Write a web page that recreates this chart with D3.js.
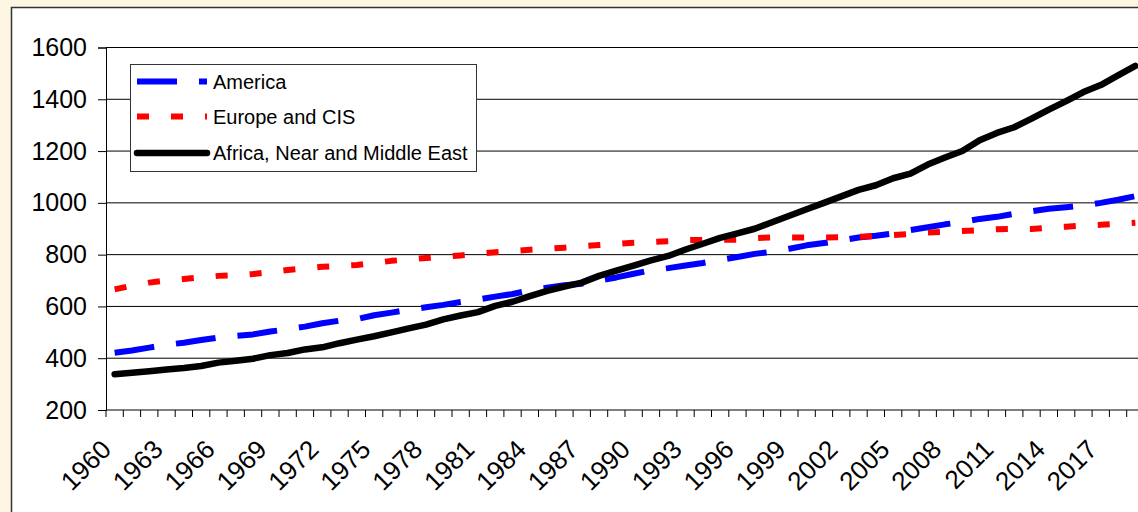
<!DOCTYPE html>
<html>
<head>
<meta charset="utf-8">
<script src="https://cdn.jsdelivr.net/npm/d3@7"></script>
<style>
  body { margin: 0; background: #fdf6e3; }
  svg { display: block; font-family: "Liberation Sans", Arial, sans-serif; }
</style>
</head>
<body>
<div id="vis1"></div>
<script>
const FRAME_HEIGHT = 512;
const FRAME_WIDTH = 1138;
const MARGINS = {left: 106, right: -6, top: 47.5, bottom: 102};

const VIS_HEIGHT = FRAME_HEIGHT - MARGINS.top - MARGINS.bottom;
const VIS_WIDTH = FRAME_WIDTH - MARGINS.left - MARGINS.right;

// years 1960 .. 2019
const YEARS = d3.range(1960, 2020);
const Y_TICKS = [200, 400, 600, 800, 1000, 1200, 1400, 1600];

const AMERICA = [421, 430, 441, 452, 460, 470, 480, 486, 492, 503,
                 512, 522, 535, 545, 551, 566, 576, 587, 597, 606,
                 617, 627, 638, 648, 662, 672, 682, 688, 700, 712,
                 726, 740, 748, 758, 768, 780, 791, 803, 811, 823,
                 836, 845, 855, 866, 873, 882, 895, 906, 917, 926,
                 938, 946, 958, 968, 977, 983, 990, 1000, 1012, 1026];

const EUROPE_CIS = [666, 680, 692, 700, 706, 712, 718, 721, 725, 733,
                    741, 747, 753, 757, 760, 768, 776, 782, 787, 792,
                    797, 803, 809, 814, 819, 823, 827, 832, 837, 842,
                    846, 849, 852, 856, 857, 857, 858, 864, 866, 866,
                    866, 866, 867, 869, 872, 876, 880, 885, 888, 891,
                    894, 898, 899, 899, 904, 908, 912, 915, 919, 923];

const AFRICA_ME = [338, 344, 350, 356, 362, 370, 383, 390, 398, 412,
                   420, 434, 442, 458, 472, 485, 500, 515, 530, 550,
                   565, 578, 602, 618, 640, 660, 677, 692, 718, 738,
                   758, 778, 795, 820, 842, 865, 882, 900, 925, 950,
                   975, 1000, 1025, 1050, 1068, 1095, 1113, 1148, 1175, 1200,
                   1242, 1270, 1292, 1325, 1360, 1393, 1428, 1455, 1492, 1529];

const SERIES_NAMES = ["America", "Europe and CIS", "Africa, Near and Middle East"];

const FRAME1 = d3.select("#vis1")
                  .append("svg")
                  .attr("height", FRAME_HEIGHT)
                  .attr("width", FRAME_WIDTH);

// cream page + white chart frame
FRAME1.append("rect")
      .attr("width", FRAME_WIDTH).attr("height", FRAME_HEIGHT)
      .attr("fill", "#fdf6e3");
FRAME1.append("rect")
      .attr("x", 11.5).attr("y", 7.5)
      .attr("width", FRAME_WIDTH + 20).attr("height", FRAME_HEIGHT + 20)
      .attr("fill", "#ffffff")
      .attr("stroke", "#333")
      .attr("stroke-width", 1.5);

const X_SCALE = d3.scaleBand()
                  .domain(YEARS)
                  .range([0, VIS_WIDTH])
                  .padding(0);

const Y_SCALE = d3.scaleLinear()
                  .domain([200, 1600])
                  .range([VIS_HEIGHT, 0]);

const PLOT = FRAME1.append("g")
                   .attr("transform", "translate(" + MARGINS.left + "," + MARGINS.top + ")");

// gridlines
PLOT.selectAll(".grid")
    .data(Y_TICKS.slice(1))
    .enter()
    .append("line")
      .attr("x1", 0)
      .attr("x2", VIS_WIDTH)
      .attr("y1", (d) => Y_SCALE(d))
      .attr("y2", (d) => Y_SCALE(d))
      .attr("stroke", "#000")
      .attr("stroke-width", 1);

// y axis
PLOT.append("g")
    .call(d3.axisLeft(Y_SCALE)
            .tickValues(Y_TICKS)
            .tickFormat(d3.format("d"))
            .tickSize(8)
            .tickPadding(11))
    .call((g) => g.selectAll("line, path").attr("stroke", "#000"))
    .call((g) => g.selectAll("text")
                  .attr("font-size", "25px")
                  .attr("fill", "#000")
                  .attr("font-family", "Liberation Sans, Arial, sans-serif"));

// x axis line
PLOT.append("line")
    .attr("x1", 0).attr("x2", VIS_WIDTH)
    .attr("y1", VIS_HEIGHT).attr("y2", VIS_HEIGHT)
    .attr("stroke", "#000");

// x tick marks between categories
PLOT.selectAll(".xtick")
    .data(YEARS)
    .enter()
    .append("line")
      .attr("x1", (d) => X_SCALE(d))
      .attr("x2", (d) => X_SCALE(d))
      .attr("y1", VIS_HEIGHT)
      .attr("y2", VIS_HEIGHT + 7)
      .attr("stroke", "#000");

// x labels, every third year
PLOT.append("g")
    .attr("transform", "translate(0," + VIS_HEIGHT + ")")
    .call(d3.axisBottom(X_SCALE)
            .tickValues(YEARS.filter((d, i) => i % 3 === 0))
            .tickSize(0))
    .call((g) => g.select(".domain").remove())
    .call((g) => g.selectAll("text")
                  .attr("x", 0).attr("y", 0).attr("dy", 0)
                  .attr("transform", "translate(-2,41) rotate(-45)")
                  .style("text-anchor", "end")
                  .attr("font-size", "26px")
                  .attr("fill", "#000")
                  .attr("font-family", "Liberation Sans, Arial, sans-serif"));

const STYLES = [
  {color: "#0000ff", width: 6, dash: "40,22", cap: "butt"},
  {color: "#ff0000", width: 6, dash: "12,22", cap: "butt"},
  {color: "#000000", width: 6.5, dash: null, cap: "round"}
];

const LINE = d3.line()
               .x((d, i) => X_SCALE(YEARS[i]) + X_SCALE.bandwidth() / 2)
               .y((d) => Y_SCALE(d));

[AMERICA, EUROPE_CIS, AFRICA_ME].forEach((vals, k) => {
  PLOT.append("path")
      .datum(vals)
      .attr("d", LINE)
      .attr("fill", "none")
      .attr("stroke", STYLES[k].color)
      .attr("stroke-width", STYLES[k].width)
      .attr("stroke-dasharray", STYLES[k].dash)
      .attr("stroke-linecap", STYLES[k].cap)
      .attr("stroke-linejoin", "round");
});

// legend
const LEGEND = FRAME1.append("g").attr("transform", "translate(130.5,64.5)");
LEGEND.append("rect")
      .attr("width", 346).attr("height", 107)
      .attr("fill", "#fff")
      .attr("stroke", "#333");

const LEG_Y = [17, 52, 88.5];
SERIES_NAMES.forEach((name, k) => {
  LEGEND.append("line")
        .attr("x1", 6.5).attr("x2", 76.5)
        .attr("y1", LEG_Y[k]).attr("y2", LEG_Y[k])
        .attr("stroke", STYLES[k].color)
        .attr("stroke-width", STYLES[k].width)
        .attr("stroke-dasharray", STYLES[k].dash)
        .attr("stroke-linecap", STYLES[k].cap);
  LEGEND.append("text")
        .attr("x", 82.5)
        .attr("y", LEG_Y[k])
        .attr("dy", "0.35em")
        .attr("font-size", "20px")
        .attr("fill", "#000")
        .text(name);
});
</script>
</body>
</html>
